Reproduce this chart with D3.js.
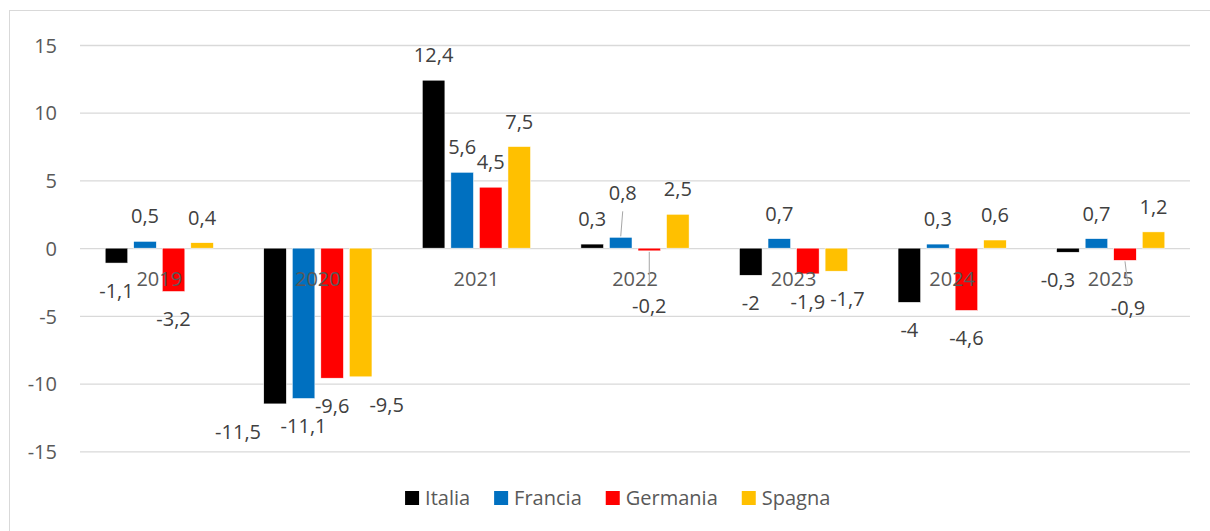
<!DOCTYPE html>
<html>
<head>
<meta charset="utf-8">
<script src="https://cdn.jsdelivr.net/npm/d3@7"></script>
<style>
  body { margin: 0; background: #fff; }
  text { font-family: "Open Sans", "Noto Sans", sans-serif; }
</style>
</head>
<body>
<div id="chart"></div>
<script>
// Years on the x axis and the four countries
const years = ["2019", "2020", "2021", "2022", "2023", "2024", "2025"];
const countries = ["Italia", "Francia", "Germania", "Spagna"];

// Values per country, one per year
const italia = [-1.1, -11.5, 12.4, 0.3, -2, -4, -0.3];
const francia = [0.5, -11.1, 5.6, 0.8, 0.7, 0.3, 0.7];
const germania = [-3.2, -9.6, 4.5, -0.2, -1.9, -4.6, -0.9];
const spagna = [0.4, -9.5, 7.5, 2.5, -1.7, 0.6, 1.2];

const yTicks = [-15, -10, -5, 0, 5, 10, 15];
const colors = ["#000000", "#0070C0", "#FF0000", "#FFC000"];

// Labels that were dragged away from their default spot in the original
const labelNudges = {
  "2020|Italia": { dx: -37, dy: 0 },
  "2020|Spagna": { dx: 26, dy: 0 },
  "2022|Francia": { dx: 2, dy: -19, leader: true },
  "2022|Germania": { dx: 0, dy: 27, leader: true },
  "2023|Spagna": { dx: 11, dy: 0 },
  "2025|Italia": { dx: -10, dy: 0 },
  "2025|Germania": { dx: 3, dy: 20, leader: true },
};

const seriesValues = [italia, francia, germania, spagna];
const rows = [];
years.forEach((yr, i) => {
  countries.forEach((c, j) => {
    rows.push({ year: yr, country: c, value: seriesValues[j][i], color: colors[j] });
  });
});

const width = 1210;
const height = 531;
const plot = { left: 80, right: 1190, top: 45, bottom: 451.3 };

const fmt = (v) => String(v).replace(".", ",");

const svg = d3
  .select("#chart")
  .append("svg")
  .attr("width", width)
  .attr("height", height);

// Chart area border (runs off the right and bottom edges)
svg
  .append("rect")
  .attr("x", 9.5)
  .attr("y", 10.5)
  .attr("width", 1230)
  .attr("height", 540)
  .attr("fill", "#fff")
  .attr("stroke", "#d9d9d9")
  .attr("stroke-width", 1);

const x0 = d3.scaleBand().domain(years).range([plot.left, plot.right]);
const groupW = x0.bandwidth() * 0.72;
const groupOff = (x0.bandwidth() - groupW) / 2;
const x1 = d3
  .scaleBand()
  .domain(countries)
  .range([0, groupW])
  .paddingInner(0.21)
  .paddingOuter(0.105);

const y = d3.scaleLinear().domain([-15, 15]).range([plot.bottom, plot.top]);

// Y axis with gridlines
const yAxis = svg
  .append("g")
  .attr("transform", `translate(${plot.left},0)`)
  .call(
    d3
      .axisLeft(y)
      .tickValues(yTicks)
      .tickSize(-(plot.right - plot.left))
      .tickPadding(23)
      .tickFormat(fmt)
  );
yAxis.select(".domain").remove();
yAxis.selectAll(".tick line").attr("stroke", "#d9d9d9").attr("stroke-width", 1.3);
yAxis
  .selectAll(".tick text")
  .attr("fill", "#595959")
  .style("font-size", "20px")
  .attr("dy", "0.36em");

const barX = (d) => x0(d.year) + groupOff + x1(d.country);

// Bars
svg
  .append("g")
  .selectAll("rect")
  .data(rows)
  .join("rect")
  .attr("x", barX)
  .attr("y", (d) => y(Math.max(0, d.value)))
  .attr("width", x1.bandwidth())
  .attr("height", (d) => Math.abs(y(d.value) - y(0)))
  .attr("fill", (d) => d.color)
  .attr("stroke", "#fff")
  .attr("stroke-width", 0.5);

// Category labels sit just under the zero line
const xAxis = svg
  .append("g")
  .attr("transform", `translate(0,${y(0)})`)
  .call(d3.axisBottom(x0).tickSize(0).tickPadding(24));
xAxis.select(".domain").remove();
xAxis
  .selectAll(".tick text")
  .attr("fill", "#595959")
  .style("font-size", "20px");

// Data labels
const labelPos = (d) => {
  const n = labelNudges[d.year + "|" + d.country] || { dx: 0, dy: 0 };
  const cx = barX(d) + x1.bandwidth() / 2;
  const base = d.value >= 0 ? y(d.value) - 18 : y(d.value) + 35;
  return { cx, x: cx + n.dx, y: base + n.dy, leader: n.leader };
};

const leaders = rows.filter((d) => labelPos(d).leader);
svg
  .append("g")
  .selectAll("line")
  .data(leaders)
  .join("line")
  .attr("x1", (d) => labelPos(d).cx)
  .attr("y1", (d) => (d.value >= 0 ? y(d.value) - 1 : y(d.value) + 1))
  .attr("x2", (d) => labelPos(d).x)
  .attr("y2", (d) => (d.value >= 0 ? labelPos(d).y + 11 : labelPos(d).y - 30))
  .attr("stroke", "#a6a6a6")
  .attr("stroke-width", 1);

svg
  .append("g")
  .selectAll("text")
  .data(rows)
  .join("text")
  .attr("x", (d) => labelPos(d).x)
  .attr("y", (d) => labelPos(d).y)
  .attr("text-anchor", "middle")
  .attr("fill", "#404040")
  .style("font-size", "20px")
  .text((d) => fmt(d.value));

// Legend, centred on the chart area
const legend = svg.append("g");
const items = legend
  .selectAll("g")
  .data(countries)
  .join("g");
items
  .append("rect")
  .attr("width", 14)
  .attr("height", 14)
  .attr("y", 491)
  .attr("fill", (d, i) => colors[i]);
items
  .append("text")
  .attr("x", 20)
  .attr("y", 505)
  .attr("fill", "#595959")
  .style("font-size", "20px")
  .text((d) => d);

let cursor = 0;
items.each(function () {
  const w = d3.select(this).select("text").node().getComputedTextLength();
  d3.select(this).attr("transform", `translate(${cursor},0)`);
  cursor += 20 + w + 24;
});
const legendW = cursor - 24;
legend.attr("transform", `translate(${617.7 - legendW / 2},0)`);
</script>
</body>
</html>
